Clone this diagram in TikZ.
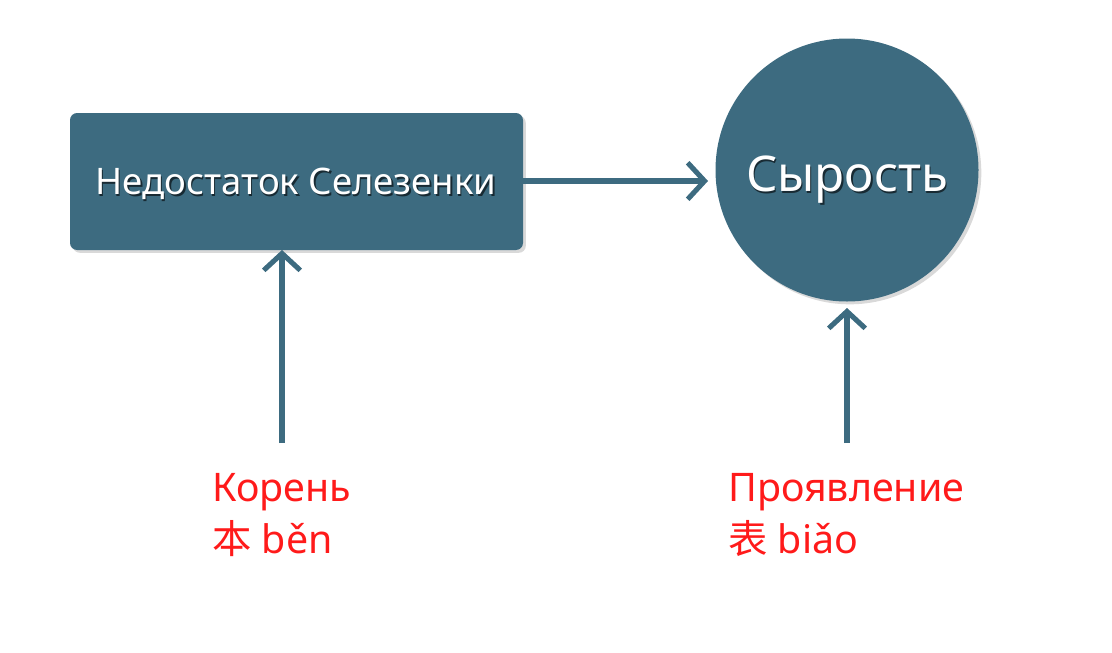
\documentclass[tikz,border=0pt]{standalone}
\usepackage{fontspec}
\setmainfont{Noto Sans}
\newfontfamily\cjk{Noto Sans CJK SC}
\usetikzlibrary{arrows.meta,shadows,shapes.geometric}
\definecolor{boxc}{HTML}{3D6B80}
\definecolor{redt}{HTML}{FF1A1A}
\tikzset{
  px/.style={x=0.025cm,y=-0.025cm},
  shape1/.style={fill=boxc,draw=none,drop shadow={shadow xshift=2pt,shadow yshift=-2pt,opacity=0.3}},
  conn/.style={draw=boxc,line width=3.6pt,-{Straight Barb[length=12pt,width=26pt,line width=3.6pt]}},
  lbl/.style={text=redt,font=\fontsize{28}{37}\selectfont,align=left,anchor=north west,inner sep=0pt},
}
\newcommand{\shtext}[3]{%
  \node[text=black,opacity=0.6,font=#3] at ([xshift=1pt,yshift=-1.2pt]#1) {#2};
  \node[text=white,font=#3] at (#1) {#2};}
\begin{document}
\begin{tikzpicture}[px]
\useasboundingbox (0,0) rectangle (1112,652);
\node[shape1,rounded corners=5pt,minimum width=453*0.025cm,minimum height=137*0.025cm] (box) at (296.5,181.5) {};
\node[shape1,circle,inner sep=0pt,minimum size=263*0.025cm] (circ) at (847,170) {};
\coordinate (bt) at (296,184);
\coordinate (ct) at (847,180);
\shtext{bt}{Недостаток Селезенки}{\fontsize{26}{30}\selectfont}
\shtext{ct}{Сырость}{\fontsize{35}{40}\selectfont}
\coordinate (s1) at (282,443);
\coordinate (s2) at (847,443);
\coordinate (e1) at (282,250);
\coordinate (e2) at (847,308);
\draw[conn] (box.east|-0,181) -- (708,181);
\draw[conn] (s1) -- (e1);
\draw[conn] (s2) -- (e2);
\node[lbl] (l1) at (212,473) {Корень\\{\cjk 本} běn};
\node[lbl] (l2) at (728,473) {Проявление\\{\cjk 表} biǎo};
\end{tikzpicture}
\end{document}
